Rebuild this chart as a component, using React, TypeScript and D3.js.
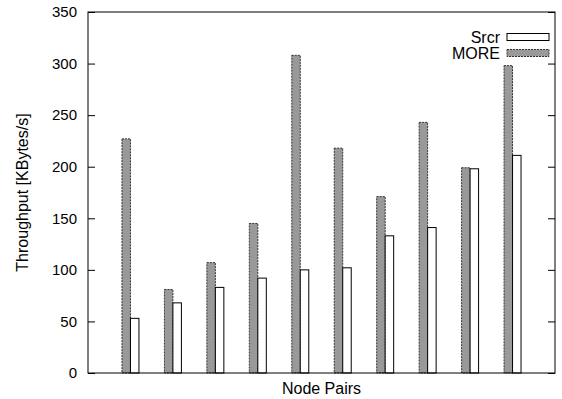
import React, { useEffect, useRef } from 'react'
import * as d3 from 'd3'

const pairs = [1, 2, 3, 4, 5, 6, 7, 8, 9, 10]
const moreValues = [227, 81, 107, 145, 308, 218, 171, 243, 199, 298]
const srcrValues = [53, 68, 83, 92, 100, 102, 133, 141, 198, 211]
const yTicks = [0, 50, 100, 150, 200, 250, 300, 350]

const App = () => {
  const svgRef = useRef<SVGSVGElement>(null)

  useEffect(() => {
    const width = 562
    const height = 399
    const left = 88
    const right = 555
    const top = 12
    const bottom = 373

    const svg = d3.select(svgRef.current)
    svg.selectAll('*').remove()
    svg.attr('width', width).attr('height', height)

    const x = d3.scaleLinear().domain([0, 11]).range([left, right])
    const y = d3.scaleLinear().domain([0, 350]).range([bottom, top])
    const bw = x(0.2) - x(0)

    const font = 'Liberation Sans, Arial, sans-serif'

    // bars
    svg.append('g')
      .selectAll('rect')
      .data(pairs)
      .join('rect')
      .attr('x', (d) => x(d) - bw)
      .attr('y', (d, i) => y(moreValues[i]))
      .attr('width', bw)
      .attr('height', (d, i) => y(0) - y(moreValues[i]))
      .attr('fill', '#999999')
      .attr('stroke', '#333')
      .attr('stroke-width', 1)
      .attr('stroke-dasharray', '2,1')

    svg.append('g')
      .selectAll('rect')
      .data(pairs)
      .join('rect')
      .attr('x', (d) => x(d))
      .attr('y', (d, i) => y(srcrValues[i]))
      .attr('width', bw)
      .attr('height', (d, i) => y(0) - y(srcrValues[i]))
      .attr('fill', '#fff')
      .attr('stroke', '#000')
      .attr('stroke-width', 1)

    // frame
    svg.append('rect')
      .attr('x', left)
      .attr('y', top)
      .attr('width', right - left)
      .attr('height', bottom - top)
      .attr('fill', 'none')
      .attr('stroke', '#000')
      .attr('stroke-width', 1)

    const yLeft = d3.axisLeft(y).tickValues(yTicks).tickSize(-7).tickPadding(11)
    const gl = svg.append('g').attr('transform', `translate(${left},0)`).call(yLeft)
    gl.select('.domain').remove()
    gl.selectAll('text').attr('font-family', font).attr('font-size', 15).attr('fill', '#000')

    const yRight = d3.axisRight(y).tickValues(yTicks).tickSize(-7).tickFormat(() => '')
    const gr = svg.append('g').attr('transform', `translate(${right},0)`).call(yRight)
    gr.select('.domain').remove()

    svg.append('text')
      .attr('transform', `translate(22,${(top + bottom) / 2}) rotate(-90)`)
      .attr('text-anchor', 'middle')
      .attr('dy', '0.35em')
      .attr('font-family', font)
      .attr('font-size', 16)
      .text('Throughput [KBytes/s]')

    svg.append('text')
      .attr('x', (left + right) / 2)
      .attr('y', 394)
      .attr('text-anchor', 'middle')
      .attr('font-family', font)
      .attr('font-size', 16)
      .text('Node Pairs')

    // legend
    const legend = [
      { name: 'Srcr', fill: '#fff', stroke: '#000', dash: 'none' },
      { name: 'MORE', fill: '#999999', stroke: '#333', dash: '2,1' },
    ]
    const lg = svg.append('g')
    legend.forEach((l, i) => {
      const cy = 37 + i * 16
      lg.append('text')
        .attr('x', 500)
        .attr('y', cy)
        .attr('dy', '0.35em')
        .attr('text-anchor', 'end')
        .attr('font-family', font)
        .attr('font-size', 16)
        .text(l.name)
      lg.append('rect')
        .attr('x', 507)
        .attr('y', cy - 3.5)
        .attr('width', 42)
        .attr('height', 7)
        .attr('fill', l.fill)
        .attr('stroke', l.stroke)
        .attr('stroke-dasharray', l.dash)
    })
  }, [])

  return <svg ref={svgRef} style={{ position: 'absolute', left: 0, top: 0 }} />
}

export default App
